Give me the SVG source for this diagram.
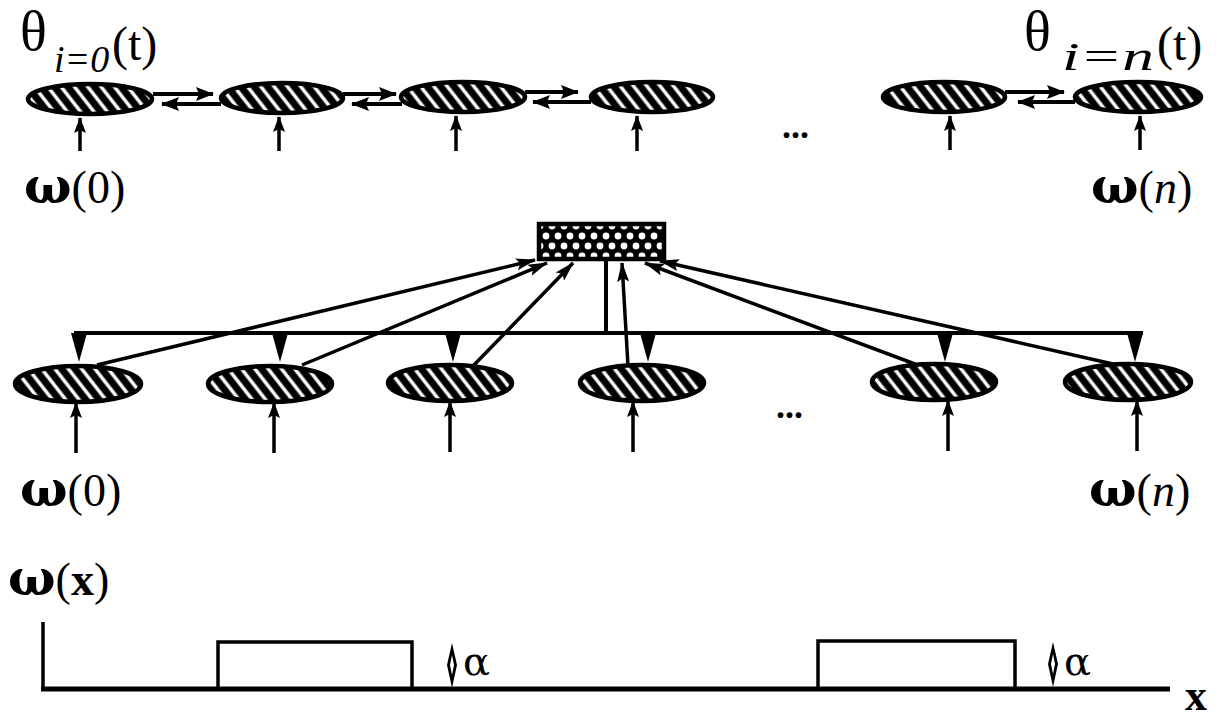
<svg xmlns="http://www.w3.org/2000/svg" width="1223" height="723" viewBox="0 0 1223 723">
<defs>
<pattern id="hatch" patternUnits="userSpaceOnUse" width="10.5" height="12" patternTransform="rotate(-38)">
<rect width="10.5" height="12" fill="#000"/>
<rect x="3.5" width="3.5" height="12" fill="#fff"/>
</pattern>
<pattern id="cross" patternUnits="userSpaceOnUse" width="12" height="20" x="540" y="226">
<rect width="12" height="20" fill="#000"/>
<circle cx="0" cy="0" r="3.4" fill="#fff"/>
<circle cx="12" cy="0" r="3.4" fill="#fff"/>
<circle cx="0" cy="20" r="3.4" fill="#fff"/>
<circle cx="12" cy="20" r="3.4" fill="#fff"/>
<circle cx="6" cy="10" r="3.4" fill="#fff"/>
</pattern>
<marker id="ah" viewBox="0 0 20 12" refX="19" refY="6" markerWidth="20" markerHeight="12" markerUnits="userSpaceOnUse" orient="auto">
<path d="M0,0 L20,6 L0,12 L4,6 z" fill="#000"/>
</marker>
<marker id="ahc" viewBox="0 0 18 14" refX="17" refY="7" markerWidth="18" markerHeight="14" markerUnits="userSpaceOnUse" orient="auto">
<path d="M0,0 L18,7 L0,14 L3,7 z" fill="#000"/>
</marker>
<marker id="ahs" viewBox="0 0 16 12" refX="15" refY="6" markerWidth="16" markerHeight="12" markerUnits="userSpaceOnUse" orient="auto">
<path d="M0,0 L16,6 L0,12 L3,6 z" fill="#000"/>
</marker>
</defs>
<style>
.node{fill:url(#hatch);stroke:#000;stroke-width:4.5}
.ln{stroke:#000;stroke-width:4;fill:none}
.th{stroke:#000;stroke-width:3.5;fill:none;marker-end:url(#ah)}
.cp{stroke:#000;stroke-width:4;fill:none;marker-end:url(#ahc)}
.up{stroke:#000;stroke-width:3.5;fill:none;marker-end:url(#ahs)}
.t{font-family:"Liberation Serif",serif;fill:#000}
.g{font-family:"DejaVu Serif","Liberation Serif",serif;font-weight:bold}
.gr{font-family:"DejaVu Serif","Liberation Serif",serif;fill:#000}
.tri{fill:#000}
</style>
<rect width="1223" height="723" fill="#fff"/>

<!-- top row -->
<g id="top-n0"><ellipse class="node" cx="90" cy="99" rx="62" ry="15"/></g>
<g id="top-n1"><ellipse class="node" cx="282" cy="98" rx="61" ry="15"/></g>
<g id="top-n2"><ellipse class="node" cx="463" cy="97" rx="62" ry="15"/></g>
<g id="top-n3"><ellipse class="node" cx="652" cy="97" rx="61" ry="15"/></g>
<g id="top-n4"><ellipse class="node" cx="944" cy="97" rx="61" ry="15"/></g>
<g id="top-n5"><ellipse class="node" cx="1138" cy="97" rx="63" ry="15"/></g>

<g id="top-labels">
<text class="t" x="20" y="50" font-size="56">θ</text>
<text class="t" x="54" y="72" font-size="38" font-style="italic">i=0</text>
<text class="t" x="112" y="60" font-size="48">(t)</text>
<text class="t" x="1024" y="50" font-size="56">θ</text>
<text class="t" x="1062" y="70" font-size="40" font-style="italic" textLength="92" lengthAdjust="spacingAndGlyphs">i=n</text>
<text class="t" x="1157" y="60" font-size="48">(t)</text>
<text class="t" x="782" y="138" font-size="36" font-weight="bold">...</text>
<text class="t" x="24" y="203" font-size="46"><tspan class="g" font-size="50">ω</tspan>(0)</text>
<text class="t" x="1091" y="203" font-size="46"><tspan class="g" font-size="50">ω</tspan>(<tspan font-style="italic">n</tspan>)</text>
</g>

<!-- hub -->
<g id="hub"><rect x="539" y="224" width="125" height="35" fill="url(#cross)" stroke="#000" stroke-width="4.5"/></g>

<!-- bottom row -->
<g id="bot-n0"><ellipse class="node" cx="78" cy="384" rx="63" ry="18"/></g>
<g id="bot-n1"><ellipse class="node" cx="270" cy="384" rx="62" ry="18"/></g>
<g id="bot-n2"><ellipse class="node" cx="450" cy="383" rx="62" ry="18"/></g>
<g id="bot-n3"><ellipse class="node" cx="642" cy="383" rx="62" ry="18"/></g>
<g id="bot-n4"><ellipse class="node" cx="934" cy="382" rx="62" ry="18"/></g>
<g id="bot-n5"><ellipse class="node" cx="1128" cy="382" rx="63" ry="18"/></g>

<g id="bot-labels">
<text class="t" x="776" y="418" font-size="36" font-weight="bold">...</text>
<text class="t" x="20" y="506" font-size="46"><tspan class="g" font-size="50">ω</tspan>(0)</text>
<text class="t" x="1089" y="506" font-size="46"><tspan class="g" font-size="50">ω</tspan>(<tspan font-style="italic">n</tspan>)</text>
</g>

<g id="connectors">
<!-- top row couplings -->
<line class="cp" x1="153" y1="94" x2="213" y2="94"/>
<line class="cp" x1="221" y1="104" x2="162" y2="104"/>
<line class="cp" x1="343" y1="94" x2="396" y2="94"/>
<line class="cp" x1="402" y1="104" x2="352" y2="104"/>
<line class="cp" x1="525" y1="92" x2="578" y2="92"/>
<line class="cp" x1="591" y1="102" x2="533" y2="102"/>
<line class="cp" x1="1005" y1="92" x2="1064" y2="92"/>
<line class="cp" x1="1075" y1="102" x2="1018" y2="102"/>
<!-- top inputs -->
<line class="up" x1="80" y1="151" x2="80" y2="118"/>
<line class="up" x1="279" y1="151" x2="279" y2="117"/>
<line class="up" x1="456" y1="151" x2="456" y2="116"/>
<line class="up" x1="637" y1="151" x2="637" y2="116"/>
<line class="up" x1="950" y1="150" x2="950" y2="116"/>
<line class="up" x1="1140" y1="150" x2="1140" y2="116"/>
<!-- hub feedback bus -->
<line class="ln" x1="606" y1="260" x2="606" y2="333"/>
<line class="ln" x1="74" y1="333" x2="1143" y2="333"/>
<polygon class="tri" points="71,333 87,333 79,362"/>
<polygon class="tri" points="272,333 288,333 280,362"/>
<polygon class="tri" points="445,333 461,333 453,362"/>
<polygon class="tri" points="640,333 656,333 648,362"/>
<polygon class="tri" points="937,333 953,333 945,362"/>
<polygon class="tri" points="1127,333 1143,333 1135,362"/>
<!-- nodes to hub -->
<line class="th" x1="97" y1="365" x2="535" y2="260"/>
<line class="th" x1="302" y1="365" x2="547" y2="263"/>
<line class="th" x1="473" y1="366" x2="573" y2="263"/>
<line class="th" x1="628" y1="366" x2="622" y2="263"/>
<line class="th" x1="915" y1="364" x2="645" y2="263"/>
<line class="th" x1="1113" y1="364" x2="660" y2="261"/>
<!-- bottom inputs -->
<line class="up" x1="76" y1="453" x2="76" y2="403"/>
<line class="up" x1="274" y1="453" x2="274" y2="403"/>
<line class="up" x1="450" y1="452" x2="450" y2="402"/>
<line class="up" x1="633" y1="452" x2="633" y2="402"/>
<line class="up" x1="948" y1="451" x2="948" y2="401"/>
<line class="up" x1="1137" y1="451" x2="1137" y2="401"/>
</g>

<!-- bottom plot -->
<g id="plot">
<text class="t" x="8" y="595" font-size="46"><tspan class="g" font-size="50">ω</tspan>(<tspan font-weight="bold">x</tspan>)</text>
<line x1="43" y1="622" x2="43" y2="690" stroke="#000" stroke-width="3.5"/>
<line x1="41" y1="689" x2="1170" y2="689" stroke="#000" stroke-width="5"/>
<polyline points="218,689 218,642 412,642 412,689" fill="none" stroke="#000" stroke-width="3.5"/>
<polyline points="818,689 818,641 1015,641 1015,689" fill="none" stroke="#000" stroke-width="3.5"/>
<path d="M452,643 L457,665 L452,688 L447,665 Z" fill="#000"/>
<path d="M452,655 L454,665 L452,675 L450,665 Z" fill="#fff"/>
<text class="gr" x="463" y="675" font-size="40">α</text>
<path d="M1053,642 L1058,664 L1053,687 L1048,664 Z" fill="#000"/>
<path d="M1053,654 L1055,664 L1053,674 L1051,664 Z" fill="#fff"/>
<text class="gr" x="1064" y="675" font-size="40">α</text>
<text class="t" x="1185" y="710" font-size="44" font-weight="bold">x</text>
</g>
</svg>
